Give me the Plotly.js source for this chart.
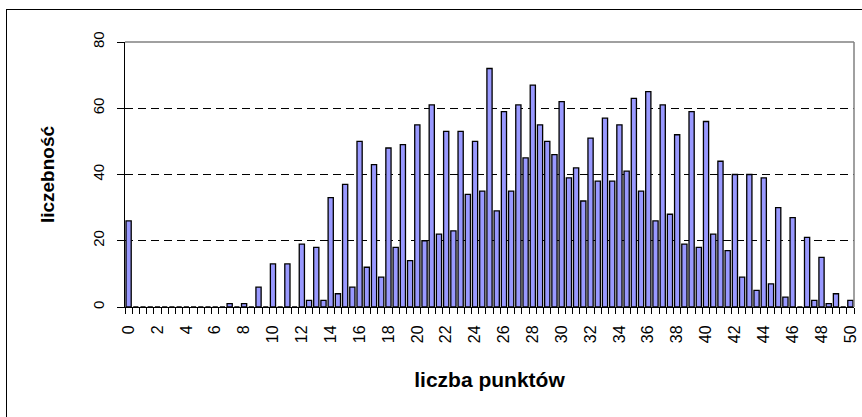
<!DOCTYPE html>
<html>
<head>
<meta charset="utf-8">
<script src="https://cdn.plot.ly/plotly-3.0.1.min.js"></script>
<style>
  html, body { margin: 0; padding: 0; background: #ffffff; overflow: hidden; }
  #wrap { position: relative; width: 862px; height: 417px; overflow: hidden; }
  #chart { width: 862px; height: 417px; }
  #frame { position: absolute; left: 6px; top: 9px; width: 900px; height: 450px;
           border-left: 1.5px solid #000; border-top: 1.5px solid #000; pointer-events: none; }
</style>
</head>
<body>
<div id="wrap">
<div id="chart"></div>
<div id="frame"></div>
</div>
<script>
// liczba punktów (categories, every half point)
const points = [
  0, 0.5, 1, 1.5, 2, 2.5, 3, 3.5, 4, 4.5,
  5, 5.5, 6, 6.5, 7, 7.5, 8, 8.5, 9, 9.5,
  10, 10.5, 11, 11.5, 12, 12.5, 13, 13.5, 14, 14.5,
  15, 15.5, 16, 16.5, 17, 17.5, 18, 18.5, 19, 19.5,
  20, 20.5, 21, 21.5, 22, 22.5, 23, 23.5, 24, 24.5,
  25, 25.5, 26, 26.5, 27, 27.5, 28, 28.5, 29, 29.5,
  30, 30.5, 31, 31.5, 32, 32.5, 33, 33.5, 34, 34.5,
  35, 35.5, 36, 36.5, 37, 37.5, 38, 38.5, 39, 39.5,
  40, 40.5, 41, 41.5, 42, 42.5, 43, 43.5, 44, 44.5,
  45, 45.5, 46, 46.5, 47, 47.5, 48, 48.5, 49, 49.5,
  50
];
// liczebność
const counts = [
  26, 0, 0, 0, 0, 0, 0, 0, 0, 0,
  0, 0, 0, 0, 1, 0, 1, 0, 6, 0,
  13, 0, 13, 0, 19, 2, 18, 2, 33, 4,
  37, 6, 50, 12, 43, 9, 48, 18, 49, 14,
  55, 20, 61, 22, 53, 23, 53, 34, 50, 35,
  72, 29, 59, 35, 61, 45, 67, 55, 50, 46,
  62, 39, 42, 32, 51, 38, 57, 38, 55, 41,
  63, 35, 65, 26, 61, 28, 52, 19, 59, 18,
  56, 22, 44, 17, 40, 9, 40, 5, 39, 7,
  30, 3, 27, 0, 21, 2, 15, 1, 4, 0,
  2
];
// x tick labels
const xTickVals = [0, 2, 4, 6, 8, 10, 12, 14, 16, 18, 20, 22, 24, 26, 28, 30, 32, 34, 36, 38, 40, 42, 44, 46, 48, 50];
const xTickText = ["0", "2", "4", "6", "8", "10", "12", "14", "16", "18", "20", "22", "24", "26", "28", "30", "32", "34", "36", "38", "40", "42", "44", "46", "48", "50"];
const yTickVals = [0, 20, 40, 60, 80];
const yTickText = ["0", "20", "40", "60", "80"];

const FONT = "'Liberation Sans', Arial, sans-serif";

const trace = {
  type: 'bar',
  x: points,
  y: counts,
  marker: { color: '#9999ff', line: { color: '#000000', width: 1.3 } },
  hoverinfo: 'x+y'
};

const layout = {
  width: 862,
  height: 417,
  margin: { l: 125, r: 8, t: 42, b: 110 },
  paper_bgcolor: 'rgba(0,0,0,0)',
  plot_bgcolor: '#ffffff',
  bargap: 0.28,
  showlegend: false,
  font: { family: FONT, color: '#000000' },
  xaxis: {
    type: 'linear',
    range: [-0.25, 50.25],
    tickmode: 'array',
    tickvals: xTickVals,
    ticktext: xTickText,
    tickangle: -90,
    ticks: '',
    tickfont: { family: FONT, size: 16, color: '#000000' },
    ticklabelstandoff: 11,
    minor: { tick0: 0.25, dtick: 0.5, ticks: 'outside', ticklen: 6, tickwidth: 1, tickcolor: '#000000', showgrid: false },
    showline: true,
    linecolor: '#000000',
    linewidth: 1,
    showgrid: false,
    zeroline: false,
    fixedrange: true,
    title: { text: '<b>liczba punktów</b>', font: { family: FONT, size: 21, color: '#000000' }, standoff: 30 }
  },
  yaxis: {
    range: [0, 80],
    tickmode: 'array',
    tickvals: yTickVals,
    ticktext: yTickText,
    tickangle: -90,
    ticks: 'outside',
    ticklen: 7,
    tickwidth: 1,
    tickcolor: '#000000',
    tickfont: { family: FONT, size: 15, color: '#000000' },
    ticklabelstandoff: 7,
    showline: true,
    linecolor: '#000000',
    linewidth: 1,
    showgrid: true,
    gridcolor: '#000000',
    gridwidth: 1,
    griddash: '8px,5px',
    zeroline: false,
    fixedrange: true,
    title: { text: '<b>liczebność</b>', font: { family: FONT, size: 19, color: '#000000' }, standoff: 30 }
  },
  shapes: [
    { type: 'line', xref: 'paper', yref: 'paper', x0: 0, x1: 1, y0: 1, y1: 1, line: { color: '#808080', width: 1.5 }, layer: 'above' },
    { type: 'line', xref: 'paper', yref: 'paper', x0: 1, x1: 1, y0: 0, y1: 1, line: { color: '#808080', width: 1.5 }, layer: 'above' }
  ]
};

Plotly.newPlot('chart', [trace], layout, { displayModeBar: false, staticPlot: true });
</script>
</body>
</html>
